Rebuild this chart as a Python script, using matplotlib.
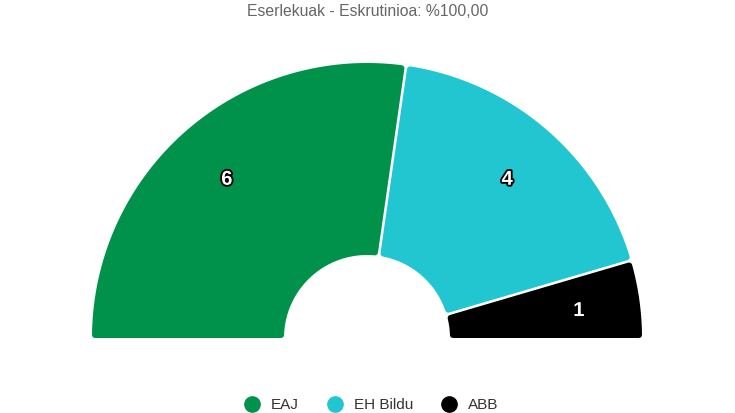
import numpy as np
import matplotlib
matplotlib.use("Agg")
import matplotlib.pyplot as plt
from matplotlib.patches import Polygon
from matplotlib.lines import Line2D
import matplotlib.patheffects as pe

# ---- data ----
parties = ["EAJ", "EH Bildu", "ABB"]
seats = [6, 4, 1]
colors = ["#00924B", "#22C6D0", "#000000"]
title = "Eserlekuak - Eskrutinioa: %100,00"

W, H = 735, 413
fig = plt.figure(figsize=(W / 100, H / 100), dpi=100)
ax = fig.add_axes([0, 0, 1, 1])
ax.set_xlim(0, W)
ax.set_ylim(0, H)
ax.set_aspect("equal")
ax.axis("off")

cx, cy = 367, H - 338
R_out, R_in = 275, 83
round_px = 3.0   # corner rounding radius
gap_px = 1.3     # half gap between slices

total = sum(seats)
theta = 180.0
lw_pt = 2 * round_px * 72 / 100
for name, val, col in zip(parties, seats, colors):
    t1 = theta
    t2 = theta - 180.0 * val / total
    theta = t2
    d = round_px + gap_px
    ro = R_out - round_px
    ri = R_in + round_px
    def ang(r, base, sign):
        return np.radians(base) + sign * np.arcsin(d / r)
    a_o1, a_o2 = ang(ro, t1, -1), ang(ro, t2, +1)
    a_i1, a_i2 = ang(ri, t1, -1), ang(ri, t2, +1)
    if t1 >= 179.9:
        a_o1 = np.pi - np.arcsin(round_px / ro)
        a_i1 = np.pi - np.arcsin(round_px / ri)
    if t2 <= 0.1:
        a_o2 = np.arcsin(round_px / ro)
        a_i2 = np.arcsin(round_px / ri)
    to = np.linspace(a_o1, a_o2, 120)
    ti = np.linspace(a_i2, a_i1, 60)
    xs = np.concatenate([cx + ro * np.cos(to), cx + ri * np.cos(ti)])
    ys = np.concatenate([cy + ro * np.sin(to), cy + ri * np.sin(ti)])
    poly = Polygon(np.column_stack([xs, ys]), closed=True, facecolor=col,
                   edgecolor=col, linewidth=lw_pt, joinstyle="round")
    ax.add_patch(poly)
    mid = np.radians((t1 + t2) / 2)
    rl = 214
    ax.text(cx + rl * np.cos(mid), cy + rl * np.sin(mid) - 3.0, str(val),
            ha="center", va="center", fontsize=14.5, fontweight="bold",
            color="white", family="Liberation Sans",
            path_effects=[pe.withStroke(linewidth=2.6, foreground="black")])

ax.text(W / 2, H - 11, title, ha="center", va="center", fontsize=11.3,
        color="#666666", family="Liberation Sans")

handles = [Line2D([], [], marker="o", linestyle="none", markersize=11,
                  markerfacecolor=c, markeredgecolor=c) for c in colors]
leg = fig.legend(handles, parties, loc="center", bbox_to_anchor=(0.5, 8 / H),
                 ncol=3, frameon=False, handletextpad=0.25, columnspacing=1.35,
                 prop={"family": "Liberation Sans", "size": 11})
for t in leg.get_texts():
    t.set_color("#333333")

fig.savefig("out.png", dpi=100)
